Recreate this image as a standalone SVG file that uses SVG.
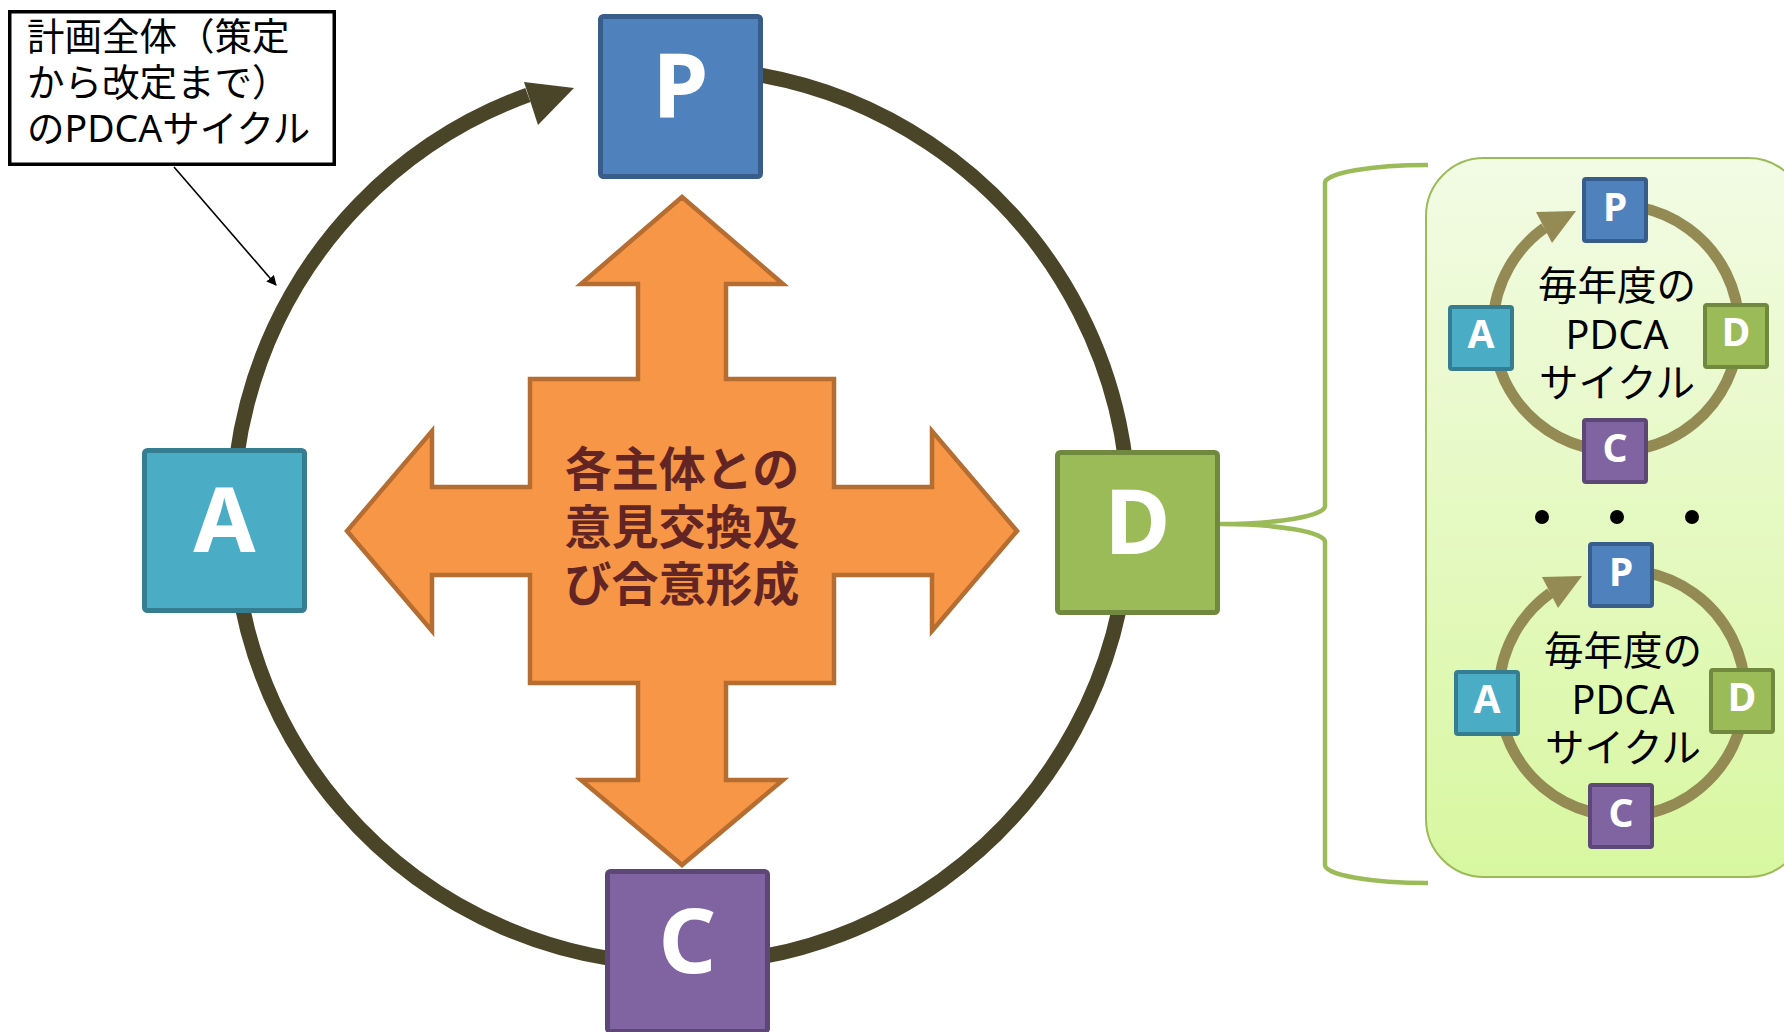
<svg xmlns="http://www.w3.org/2000/svg" width="1784" height="1032" viewBox="0 0 1784 1032">
<defs>
<style>
.bigbox{stroke-width:5}
.smbox{stroke-width:4}
.p{fill:#4F81BD;stroke:#385D8A}
.a{fill:#4BACC6;stroke:#357D91}
.d{fill:#9BBB59;stroke:#71893F}
.c{fill:#8064A2;stroke:#5C4776}
.let{font-family:'Noto Sans','DejaVu Sans',sans-serif;font-weight:bold;fill:#fff;text-anchor:middle}
.bl{font-size:90px}
.sl{font-size:39px}
.jp{font-family:'Noto Sans','Noto Sans CJK JP',sans-serif;fill:#000}
.ctr{text-anchor:middle}
.ring{fill:none;stroke:#4A4429;stroke-width:15}
.sring{fill:none;stroke:#948A54;stroke-width:11}
</style>
<linearGradient id="pg" x1="0" y1="0" x2="0" y2="1">
<stop offset="0" stop-color="#F2FBE4"/>
<stop offset="1" stop-color="#D8F7A0"/>
</linearGradient>
<marker id="ah" viewBox="0 0 10 10" refX="9" refY="5" markerWidth="10" markerHeight="10" markerUnits="userSpaceOnUse" orient="auto">
<path d="M0,0 L10,5 L0,10 z" fill="#000"/>
</marker>
</defs>
<rect width="1784" height="1032" fill="#fff"/>

<g id="connectors">
<path class="ring" d="M 740 72 A 448 448 0 1 1 527.9 95"/>
<polygon points="524,82 574,88 538,125" fill="#4A4429"/>
<line x1="174" y1="167" x2="276" y2="285" stroke="#000" stroke-width="1.6" marker-end="url(#ah)"/>
<path d="M 1428 165 A 103 18 0 0 0 1325 183 L 1325 506 A 105 18 0 0 1 1220 524 A 105 18 0 0 1 1325 542 L 1325 865 A 103 18 0 0 0 1428 883" fill="none" stroke="#9BBB59" stroke-width="4.5"/>
</g>

<g id="callout">
<rect x="9.75" y="11.75" width="324.5" height="152.5" fill="#fff" stroke="#000" stroke-width="3.5"/>
<text class="jp" font-size="37.5" x="27" y="50">計画全体（策定</text>
<text class="jp" font-size="37.5" x="27" y="96">から改定まで）</text>
<text class="jp" font-size="37.5" x="27" y="142">のPDCAサイクル</text>
</g>

<g id="cross">
<polygon points="682,197 783,284 726,284 726,379 834,379 834,487 932,487 932,431 1017,531 932,631 932,575 834,575 834,683 726,683 726,780 783,780 682,865 581,780 638,780 638,683 530,683 530,575 432,575 432,631 347,531 432,431 432,487 530,487 530,379 638,379 638,284 581,284" fill="#F79646" stroke="#B66D31" stroke-width="4.5" stroke-linejoin="miter"/>
<g font-family="'Noto Sans CJK JP',sans-serif" font-weight="bold" font-size="47" fill="#632523" text-anchor="middle">
<text x="682" y="486">各主体との</text>
<text x="682" y="543.5">意見交換及</text>
<text x="682" y="601">び合意形成</text>
</g>
</g>

<g id="node-P">
<rect class="bigbox p" x="600.5" y="16.5" width="160" height="160" rx="3"/>
<text class="let bl" x="680.5" y="118">P</text>
</g>
<g id="node-A">
<rect class="bigbox a" x="144.5" y="450.5" width="160" height="160" rx="3"/>
<text class="let bl" x="224.5" y="552">A</text>
</g>
<g id="node-D">
<rect class="bigbox d" x="1057.5" y="452.5" width="160" height="160" rx="3"/>
<text class="let bl" x="1137.5" y="554">D</text>
</g>
<g id="node-C">
<rect class="bigbox c" x="607.5" y="871.5" width="160" height="160" rx="3"/>
<text class="let bl" x="687.5" y="973">C</text>
</g>

<g id="panel">
<rect x="1426" y="158" width="380" height="719" rx="58" fill="url(#pg)" stroke="#9BBB59" stroke-width="2"/>
<circle cx="1542" cy="517" r="7" fill="#000"/>
<circle cx="1617" cy="517" r="7" fill="#000"/>
<circle cx="1692" cy="517" r="7" fill="#000"/>
</g>

<g id="cycle-1">
<path class="sring" d="M 1640 207.4 A 123 123 0 1 1 1544.4 228"/>
<polygon points="1536,212 1576,211 1552,243" fill="#948A54"/>
<g class="jp ctr" font-size="39.5">
<text x="1617" y="300">毎年度の</text>
<text x="1617" y="348.5">PDCA</text>
<text x="1617" y="397">サイクル</text>
</g>
<g id="c1-P"><rect class="smbox p" x="1584" y="179" width="62" height="62" rx="2"/><text class="let sl" x="1615" y="221">P</text></g>
<g id="c1-A"><rect class="smbox a" x="1450" y="307" width="62" height="62" rx="2"/><text class="let sl" x="1481" y="348">A</text></g>
<g id="c1-D"><rect class="smbox d" x="1705" y="305" width="62" height="62" rx="2"/><text class="let sl" x="1736" y="346">D</text></g>
<g id="c1-C"><rect class="smbox c" x="1584" y="420" width="62" height="62" rx="2"/><text class="let sl" x="1615" y="462">C</text></g>
</g>

<g id="cycle-2" transform="translate(6,365)">
<path class="sring" d="M 1640 207.4 A 123 123 0 1 1 1544.4 228"/>
<polygon points="1536,212 1576,211 1552,243" fill="#948A54"/>
<g class="jp ctr" font-size="39.5">
<text x="1617" y="300">毎年度の</text>
<text x="1617" y="348.5">PDCA</text>
<text x="1617" y="397">サイクル</text>
</g>
<g id="c2-P"><rect class="smbox p" x="1584" y="179" width="62" height="62" rx="2"/><text class="let sl" x="1615" y="221">P</text></g>
<g id="c2-A"><rect class="smbox a" x="1450" y="307" width="62" height="62" rx="2"/><text class="let sl" x="1481" y="348">A</text></g>
<g id="c2-D"><rect class="smbox d" x="1705" y="305" width="62" height="62" rx="2"/><text class="let sl" x="1736" y="346">D</text></g>
<g id="c2-C"><rect class="smbox c" x="1584" y="420" width="62" height="62" rx="2"/><text class="let sl" x="1615" y="462">C</text></g>
</g>
</svg>
